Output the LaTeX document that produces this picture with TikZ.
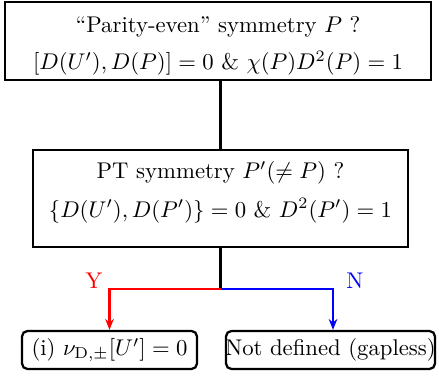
\documentclass[tikz,border=0pt]{standalone}
\usetikzlibrary{arrows.meta,fit}
\begin{document}
\begin{tikzpicture}[x=0.44pt,y=-0.44pt,
  box/.style={draw,line width=1pt,inner sep=0pt},
  leaf/.style={draw,line width=1pt,rounded corners=2.4pt,inner sep=0pt},
  txt/.style={align=center,inner sep=0pt},
  conn/.style={line width=0.9pt},
  tip/.style={-{Stealth[length=4.8pt,width=3.8pt]}},
  lab/.style={inner sep=0pt}]
\useasboundingbox (0,0) rectangle (439,377);
\node[box,fit={(5,2) (431,80)}] (top) {};
\node[txt] (toptext) at (218,46)
  {``Parity-even'' symmetry $P$ ?\\[4pt] $[D(U'),D(P)]=0$ \& $\chi(P)D^2(P)=1$};
\node[box,fit={(33,150) (408,247)}] (pt) {};
\node[txt] (pttext) at (220.5,192)
  {PT symmetry $P'(\neq P)$ ?\\[5pt] $\{D(U'),D(P')\}=0$ \& $D^2(P')=1$};
\node[leaf,fit={(22,331) (197,369)}] (bl) {};
\node[txt] (bltext) at (bl.center) {(i) $\nu_{\mathrm{D},\pm}[U']=0$};
\node[leaf,fit={(226,331) (435,369)}] (br) {};
\node[txt] (brtext) at (br.center) {Not defined (gapless)};
\coordinate (j) at (220.5,289);
\draw[conn] (pt.north |- top.south) -- (pt.north);
\draw[conn] (pt.south) -- (j);
\draw[conn,red,tip] (j) -| (bl.north);
\draw[conn,blue,tip] (j) -| ([xshift=1.1pt]br.north);
\node[lab,red] (y) at (94,281) {Y};
\node[lab,blue] (n) at (355,281) {N};
\end{tikzpicture}
\end{document}
